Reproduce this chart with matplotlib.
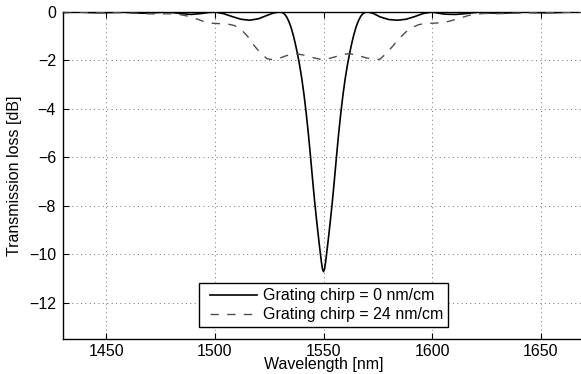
import matplotlib
matplotlib.use("Agg")
import matplotlib.pyplot as plt
from matplotlib.legend_handler import HandlerLine2D

plt.rcParams['font.family'] = ['Liberation Sans', 'DejaVu Sans']

# ---- data ----
wl_solid = [1430, 1437, 1442, 1447, 1452, 1457, 1462, 1467, 1472, 1478,
            1482, 1485, 1489, 1494, 1497, 1500, 1504, 1508, 1512, 1516,
            1520, 1524, 1527, 1529.5, 1531, 1532, 1533, 1534, 1535, 1536,
            1537, 1538, 1539, 1540, 1541, 1542, 1543, 1544, 1545, 1546,
            1547, 1548, 1549, 1549.5, 1550, 1550.5, 1551, 1552, 1553, 1554,
            1555, 1556, 1557, 1558, 1559, 1560, 1561, 1562, 1563, 1564,
            1565, 1566, 1567, 1568, 1569, 1570.5, 1573, 1576, 1580, 1584,
            1588, 1592, 1596, 1600, 1603, 1606, 1611, 1616, 1622, 1627,
            1632, 1637, 1643, 1648, 1653, 1658, 1664, 1670]
loss_solid = [-0.02, 0.0, -0.02, -0.03, -0.02, 0.0, -0.03, -0.05, -0.03, 0.0,
              -0.04, -0.07, -0.1, -0.06, -0.02, 0.0, -0.07, -0.19, -0.3, -0.34,
              -0.28, -0.14, -0.04, 0.0, -0.02, -0.08, -0.2, -0.38, -0.62, -0.93,
              -1.3, -1.72, -2.2, -2.75, -3.4, -4.15, -5.0, -5.95, -6.95, -7.9,
              -8.75, -9.55, -10.3, -10.6, -10.72, -10.6, -10.3, -9.55, -8.75, -7.9,
              -6.95, -5.95, -5.0, -4.15, -3.4, -2.75, -2.2, -1.72, -1.3, -0.93,
              -0.62, -0.38, -0.2, -0.08, -0.02, 0.0, -0.06, -0.2, -0.31, -0.34,
              -0.3, -0.19, -0.06, 0.0, -0.05, -0.09, -0.1, -0.06, 0.0, -0.04,
              -0.05, -0.03, 0.0, -0.02, -0.03, -0.02, 0.0, -0.01]

wl_dashed = [1430, 1440, 1450, 1460, 1467, 1473, 1478, 1483, 1488, 1492,
             1495, 1498, 1502, 1506, 1509, 1512, 1515, 1518, 1521, 1524,
             1526, 1529, 1533, 1537, 1541, 1545, 1549, 1551, 1555, 1559,
             1562, 1566, 1570, 1574, 1576, 1579, 1582, 1585, 1588, 1591,
             1594, 1597, 1601, 1605, 1608, 1611, 1614, 1617, 1620, 1624,
             1630, 1636, 1642, 1650, 1660, 1670]
loss_dashed = [0.0, -0.01, -0.02, -0.04, -0.07, -0.08, -0.07, -0.09, -0.18, -0.3,
               -0.4, -0.46, -0.48, -0.5, -0.56, -0.72, -1.0, -1.38, -1.7, -1.93,
               -1.96, -1.93, -1.8, -1.72, -1.78, -1.88, -1.96, -1.96, -1.86, -1.75,
               -1.72, -1.8, -1.9, -1.96, -1.95, -1.7, -1.4, -1.08, -0.82, -0.63,
               -0.52, -0.47, -0.46, -0.44, -0.38, -0.3, -0.22, -0.14, -0.09, -0.06,
               -0.07, -0.05, -0.04, -0.03, -0.02, -0.01]

labels = ["Grating chirp = 0 nm/cm", "Grating chirp = 24 nm/cm"]
xticks = [1450, 1500, 1550, 1600, 1650]
yticks = [0, -2, -4, -6, -8, -10, -12]

FS = 11.5

# ---- figure ----
W, H = 581, 374
fig = plt.figure(figsize=(W / 100, H / 100), dpi=100)
ax = fig.add_axes([63 / W, 1 - 339 / H, 521 / W, 327 / H])

ax.plot(wl_solid, loss_solid, color='black', linewidth=1.2,
        solid_joinstyle='round', label=labels[0], zorder=3)
ax.plot(wl_dashed, loss_dashed, color='0.3', linewidth=1.0,
        dashes=(6, 6), label=labels[1], zorder=3)

ax.set_xlim(1430, 1670)
ax.set_ylim(-13.5, 0)
ax.set_xticks(xticks)
ax.set_yticks(yticks)
ax.set_yticklabels(["\u2212%d" % abs(v) if v < 0 else "0" for v in yticks])

ax.grid(True, color='0.45', linestyle=(0, (1, 3.5)), linewidth=0.7)
ax.tick_params(direction='in', length=4, width=0.8, top=True, right=False,
               labelsize=FS, colors='black')
ax.tick_params(axis='x', pad=3.5)
ax.tick_params(axis='y', pad=5)
for s in ax.spines.values():
    s.set_linewidth(1.0)

ax.set_xlabel("Wavelength [nm]", fontsize=FS, labelpad=-1)
ax.set_ylabel("Transmission loss [dB]", fontsize=FS, labelpad=5)

leg = ax.legend(loc='lower center', bbox_to_anchor=(0.5, 0.037),
                borderaxespad=0, fontsize=FS, handlelength=3.3,
                handletextpad=0.35, borderpad=0.3, labelspacing=0.25,
                fancybox=False, framealpha=1, edgecolor='black',
                handler_map={plt.Line2D: HandlerLine2D(xpad=0.35)})
leg.get_frame().set_linewidth(1.0)

fig.savefig("out.png", dpi=100)
